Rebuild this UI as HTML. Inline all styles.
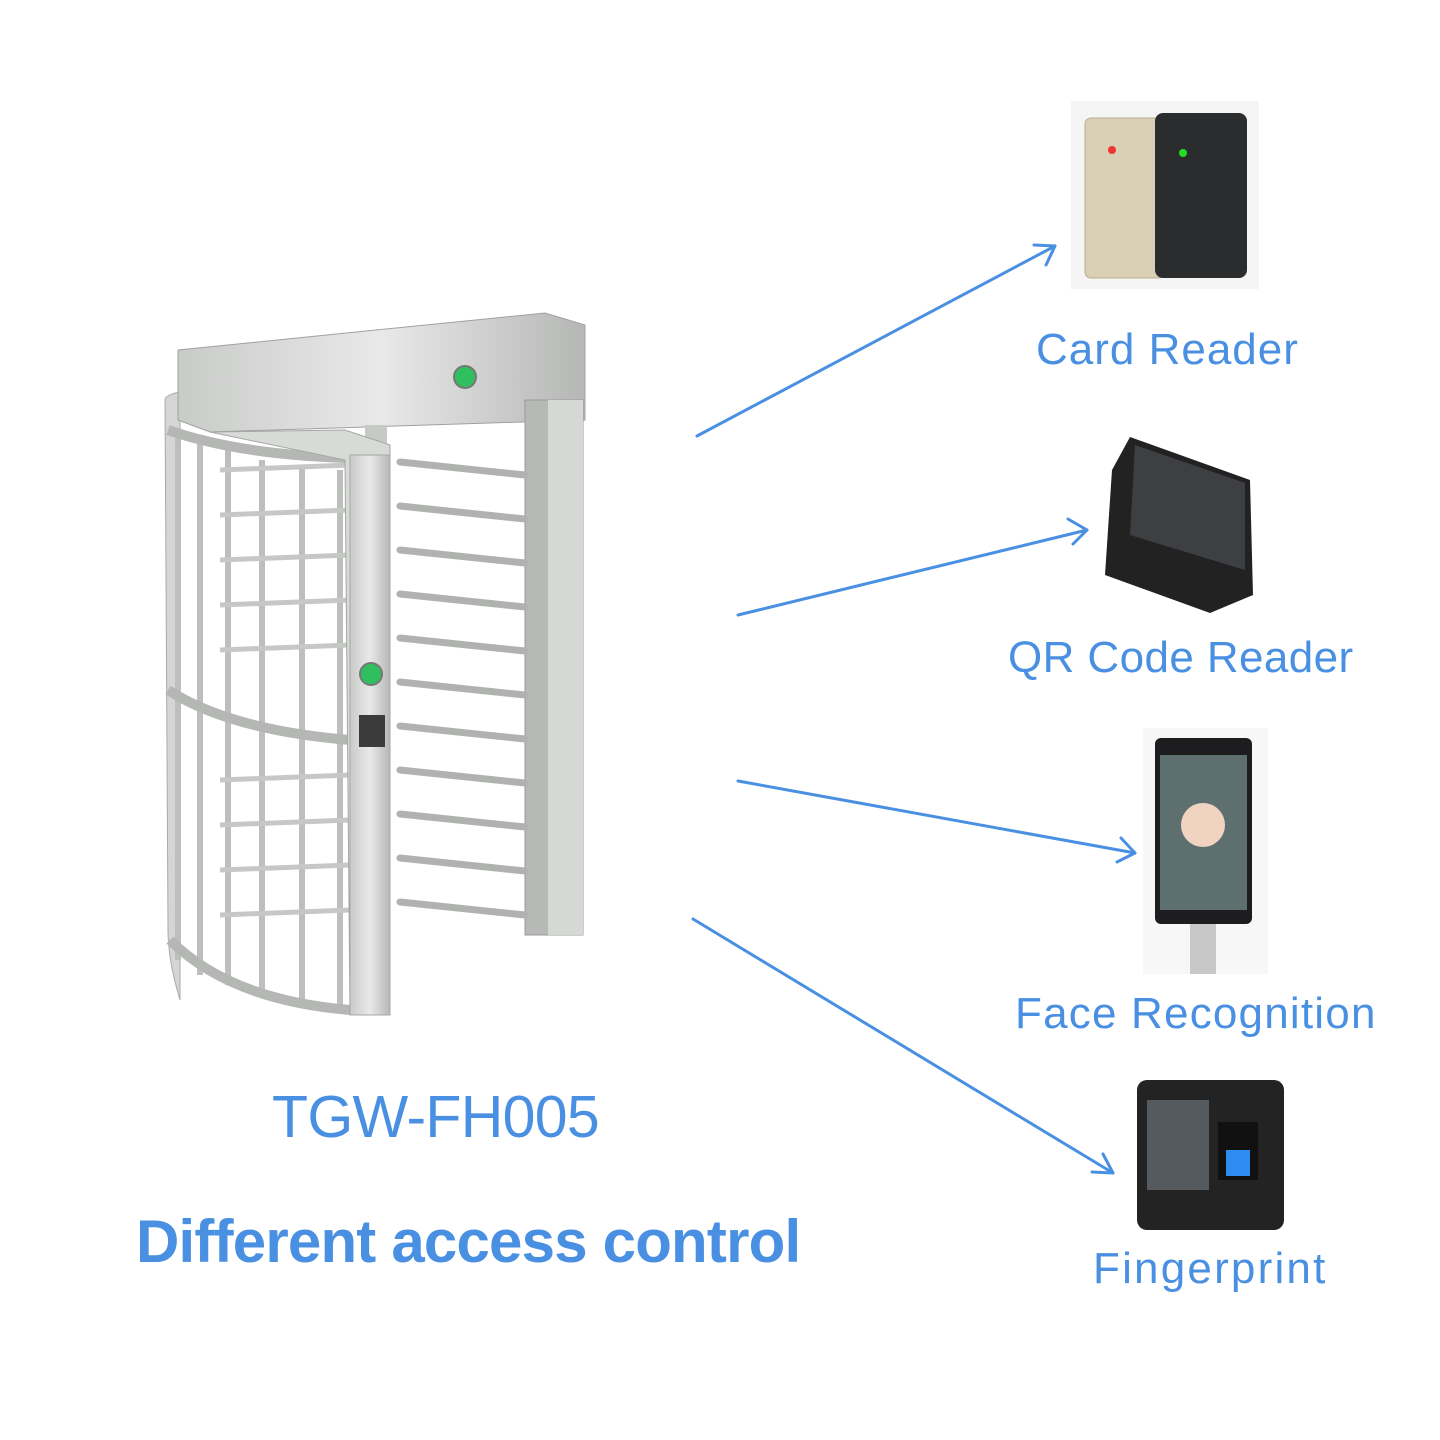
<!DOCTYPE html>
<html><head><meta charset="utf-8"><style>
html,body{margin:0;padding:0;background:#fff;}
body{width:1440px;height:1440px;position:relative;overflow:hidden;font-family:"Liberation Sans",sans-serif;}
.t{position:absolute;color:#4a90e2;white-space:nowrap;line-height:1;}
</style></head><body>
<svg width="1440" height="1440" style="position:absolute;left:0;top:0">
<defs>
<linearGradient id="m" x1="0" x2="1"><stop offset="0" stop-color="#c9cbc9"/><stop offset="0.5" stop-color="#e8e9e8"/><stop offset="1" stop-color="#b5b7b5"/></linearGradient>
</defs>
<g>
<path d="M165 400 Q165 395 180 392 L180 1000 Q168 960 168 930 Z" fill="#d4d6d4" stroke="#a9aba9"/>
<path d="M178 350 L545 313 L585 325 L585 420 L210 432 L178 420 Z" fill="url(#m)" stroke="#9fa19f"/>
<rect x="525" y="400" width="58" height="535" fill="#b7b9b7" stroke="#999"/>
<rect x="548" y="400" width="35" height="535" fill="#d6d8d6"/>
<rect x="365" y="425" width="22" height="520" fill="#c7c9c7"/>
<g stroke="#b0b2b0" stroke-width="7" stroke-linecap="round">
<line x1="400" y1="462" x2="525" y2="475"/><line x1="400" y1="506" x2="525" y2="519"/>
<line x1="400" y1="550" x2="525" y2="563"/><line x1="400" y1="594" x2="525" y2="607"/>
<line x1="400" y1="638" x2="525" y2="651"/><line x1="400" y1="682" x2="525" y2="695"/>
<line x1="400" y1="726" x2="525" y2="739"/><line x1="400" y1="770" x2="525" y2="783"/>
<line x1="400" y1="814" x2="525" y2="827"/><line x1="400" y1="858" x2="525" y2="871"/>
<line x1="400" y1="902" x2="525" y2="915"/>
</g>
<g stroke="#bdbfbd" stroke-width="6">
<line x1="178" y1="430" x2="178" y2="960"/><line x1="200" y1="440" x2="200" y2="975"/>
<line x1="228" y1="450" x2="228" y2="985"/><line x1="262" y1="460" x2="262" y2="995"/>
<line x1="302" y1="468" x2="302" y2="1000"/><line x1="340" y1="470" x2="340" y2="1005"/>
</g>
<g stroke="#c6c8c6" stroke-width="5">
<path d="M220 470 L350 465 M220 515 L350 510 M220 560 L350 555 M220 605 L350 600 M220 650 L350 645 M220 780 L350 775 M220 825 L350 820 M220 870 L350 865 M220 915 L350 910" fill="none"/>
</g>
<path d="M168 430 Q240 455 350 458" stroke="#b5b7b5" stroke-width="10" fill="none"/>
<path d="M168 690 Q230 730 350 740" stroke="#b5b7b5" stroke-width="10" fill="none"/>
<path d="M170 940 Q230 1000 350 1010" stroke="#b5b7b5" stroke-width="10" fill="none"/>
<path d="M210 432 L345 430 L390 445 L390 1015 L350 1015 L345 460 Z" fill="#d8dad8" stroke="#a5a7a5"/>
<rect x="350" y="455" width="40" height="560" fill="url(#m)" stroke="#a5a7a5"/>
<circle cx="465" cy="377" r="11" fill="#2fbf5f" stroke="#777" stroke-width="2"/>
<circle cx="371" cy="674" r="11" fill="#2fbf5f" stroke="#777" stroke-width="2"/>
<rect x="359" y="715" width="26" height="32" fill="#3b3b3b"/>
</g>
<rect x="1071" y="101" width="188" height="188" fill="#f5f5f5"/>
<rect x="1085" y="118" width="80" height="160" rx="6" fill="#d9cfb4" stroke="#b9ae92"/>
<circle cx="1112" cy="150" r="4" fill="#e33"/>
<rect x="1155" y="113" width="92" height="165" rx="8" fill="#2a2c2e"/>
<circle cx="1183" cy="153" r="4" fill="#2d2"/>
<path d="M1130 437 L1250 480 L1253 595 L1210 613 L1105 575 L1112 470 Z" fill="#222"/>
<path d="M1135 445 L1245 483 L1245 570 L1130 535 Z" fill="#3e3f42"/>
<rect x="1143" y="728" width="125" height="246" fill="#f7f7f7"/>
<rect x="1155" y="738" width="97" height="186" rx="6" fill="#1d1d1f"/>
<rect x="1160" y="755" width="87" height="155" fill="#5e6f70"/>
<circle cx="1203" cy="825" r="22" fill="#f1d3c2"/>
<rect x="1190" y="924" width="26" height="50" fill="#c8c8c8"/>
<rect x="1137" y="1080" width="147" height="150" rx="10" fill="#232323"/>
<rect x="1147" y="1100" width="62" height="90" fill="#555a5e"/>
<rect x="1218" y="1122" width="40" height="58" fill="#111"/>
<rect x="1226" y="1150" width="24" height="26" fill="#2d8cf0"/>
<g stroke="#4a90e2" stroke-width="3" fill="none" stroke-linecap="round" stroke-linejoin="round">
<line x1="697" y1="436" x2="1055" y2="246"/><polyline points="1034,245 1055,246 1046,265"/>
<line x1="738" y1="615" x2="1087" y2="530"/><polyline points="1068,519 1087,530 1073,544"/>
<line x1="738" y1="781" x2="1135" y2="853"/><polyline points="1121,838 1135,853 1117,862"/>
<line x1="693" y1="919" x2="1113" y2="1173"/><polyline points="1103,1154 1113,1173 1092,1172"/>
</g>
</svg>
<div class="t" style="left:1036px;top:328px;font-size:44px;letter-spacing:1px;">Card Reader</div>
<div class="t" style="left:1008px;top:636px;font-size:44px;letter-spacing:0.4px;">QR Code Reader</div>
<div class="t" style="left:1015px;top:992px;font-size:44px;letter-spacing:1.2px;">Face Recognition</div>
<div class="t" style="left:1093px;top:1247px;font-size:44px;letter-spacing:2.2px;">Fingerprint</div>
<div class="t" style="left:272px;top:1088px;font-size:59px;letter-spacing:-0.7px;">TGW-FH005</div>
<div class="t" style="left:136px;top:1212px;font-size:60px;font-weight:bold;letter-spacing:-0.8px;">Different access control</div>
</body></html>
